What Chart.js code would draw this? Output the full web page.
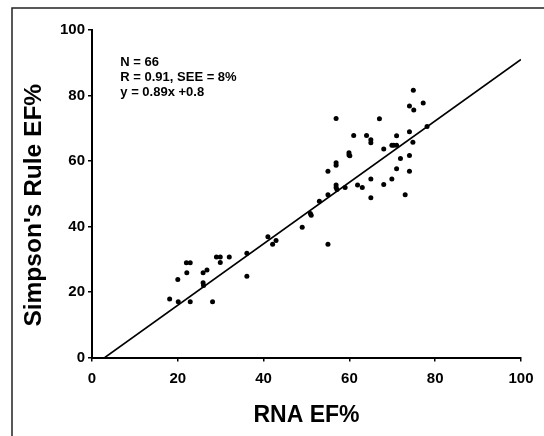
<!DOCTYPE html>
<html lang="en">
<head>
    <meta charset="UTF-8">
    <title>Simpson's Rule EF% vs RNA EF%</title>
    <script src="https://cdn.jsdelivr.net/npm/chart.js"></script>
    <style>
        body { margin: 0; background: #fff; }
        #wrap { width: 544px; height: 436px; }
    </style>
</head>
<body>
<div id="wrap">
    <canvas id="efChart" width="544" height="436"></canvas>
</div>
<script>
    // points (RNA EF% on x, Simpson's rule EF% on y)
    var rnaEF = [18.1, 20.0, 20.1, 22.0, 22.9, 22.1, 22.9, 25.9, 26.8, 25.9, 26.0, 28.1,
        29.0, 29.9, 29.9, 32.0, 36.1, 36.1, 41.0, 42.1, 42.9, 49.0, 50.9, 53.0,
        55.0, 55.0, 55.0, 56.9, 56.9, 56.9, 56.9, 56.9, 59.0, 59.9, 59.9, 61.0,
        61.9, 63.0, 64.0, 65.0, 65.0, 65.0, 65.0, 67.0, 68.0, 68.0, 69.9, 69.9,
        71.0, 71.0, 71.0, 71.9, 73.0, 74.0, 74.0, 74.0, 74.0, 75.0, 74.8, 74.9,
        77.2, 78.1, 57.1, 51.1, 60.1, 70.3];
    var simpsonEF = [17.9, 23.8, 17.0, 28.9, 28.9, 25.9, 17.0, 25.9, 26.7, 22.8, 22.0, 17.0,
        30.7, 30.7, 29.0, 30.7, 31.8, 24.8, 36.9, 34.6, 35.7, 39.8, 44.0, 47.7,
        49.7, 34.6, 56.9, 73.0, 59.5, 58.7, 52.7, 51.9, 51.9, 62.5, 61.8, 67.8,
        52.7, 51.9, 67.8, 66.5, 65.6, 54.5, 48.8, 72.9, 63.7, 52.8, 54.5, 64.8,
        64.8, 67.7, 57.6, 60.8, 49.7, 68.9, 61.7, 56.9, 76.8, 75.6, 65.7, 81.6,
        77.7, 70.5, 51.3, 43.4, 61.6, 64.8];

    // fitted line as drawn
    var fitX = [3, 100];
    var fitY = [0, 91];

    var axisTicks = [0, 20, 40, 60, 80, 100];
    var statLines = ["N = 66", "R = 0.91, SEE = 8%", "y = 0.89x +0.8"];
    var yTitle = "Simpson's Rule EF%";

    var fontFam = "'Liberation Sans', Arial, Helvetica, sans-serif";

    // frame of the figure, y title and the statistics text
    var extras = {
        id: "extras",
        beforeDraw: function (chart) {
            var ctx = chart.ctx;
            ctx.save();
            ctx.strokeStyle = "#222";
            ctx.lineWidth = 1.5;
            ctx.beginPath();
            ctx.moveTo(12, 436);
            ctx.lineTo(12, 8);
            ctx.lineTo(544, 8);
            ctx.stroke();
            ctx.restore();
        },
        afterDatasetsDraw: function (chart) {
            var ctx = chart.ctx;
            var xs = chart.scales.x, ys = chart.scales.y;
            ctx.save();
            ctx.fillStyle = "#000";
            ctx.font = "bold 13px " + fontFam;
            ctx.textBaseline = "middle";
            var left = xs.getPixelForValue(6.6);
            var vals = [90, 85.4, 81];
            statLines.forEach(function (t, i) {
                ctx.fillText(t, left, ys.getPixelForValue(vals[i]));
            });

            // y axis title, sits a bit below the middle of the axis in the original
            ctx.translate(34, ys.getPixelForValue(46.5));
            ctx.rotate(-Math.PI / 2);
            ctx.textAlign = "center";
            ctx.font = "bold 24.5px " + fontFam;
            ctx.fillText(yTitle, 0, 0);
            ctx.restore();
        }
    };

    var points = rnaEF.map(function (v, i) { return { x: v, y: simpsonEF[i] }; });
    var fitLine = fitX.map(function (v, i) { return { x: v, y: fitY[i] }; });

    new Chart(document.getElementById("efChart").getContext("2d"), {
        type: "scatter",
        data: {
            datasets: [{
                label: "Patients",
                data: points,
                backgroundColor: "#000",
                borderWidth: 0,
                pointRadius: 2.5
            }, {
                type: "line",
                label: "Regression",
                data: fitLine,
                borderColor: "#000",
                borderWidth: 1.6,
                pointRadius: 0,
                fill: false
            }]
        },
        options: {
            responsive: false,
            animation: false,
            layout: { padding: { left: 0, top: 30, right: 23, bottom: 0 } },
            plugins: {
                legend: { display: false },
                tooltip: { enabled: false }
            },
            scales: {
                x: {
                    type: "linear",
                    min: 0,
                    max: 100,
                    afterBuildTicks: function (s) { s.ticks = axisTicks.map(function (v) { return { value: v }; }); },
                    afterFit: function (s) { s.height = 78.5; },
                    border: { display: true, color: "#000", width: 2 },
                    grid: { display: true, drawOnChartArea: false, drawTicks: true, tickLength: 4, color: "#000", lineWidth: 1.5 },
                    ticks: { color: "#000", padding: 8, font: { family: fontFam, size: 15, weight: "bold" } },
                    title: {
                        display: true,
                        text: "RNA EF%",
                        color: "#000",
                        padding: { top: 0, bottom: 7 },
                        font: { family: fontFam, size: 23, weight: "bold" }
                    }
                },
                y: {
                    type: "linear",
                    min: 0,
                    max: 100,
                    afterBuildTicks: function (s) { s.ticks = axisTicks.map(function (v) { return { value: v }; }); },
                    afterFit: function (s) { s.width = 92; },
                    border: { display: true, color: "#000", width: 2 },
                    grid: { display: true, drawOnChartArea: false, drawTicks: true, tickLength: 4, color: "#000", lineWidth: 1.5 },
                    ticks: { color: "#000", padding: 3, font: { family: fontFam, size: 15, weight: "bold" } }
                }
            }
        },
        plugins: [extras]
    });
</script>
</body>
</html>
